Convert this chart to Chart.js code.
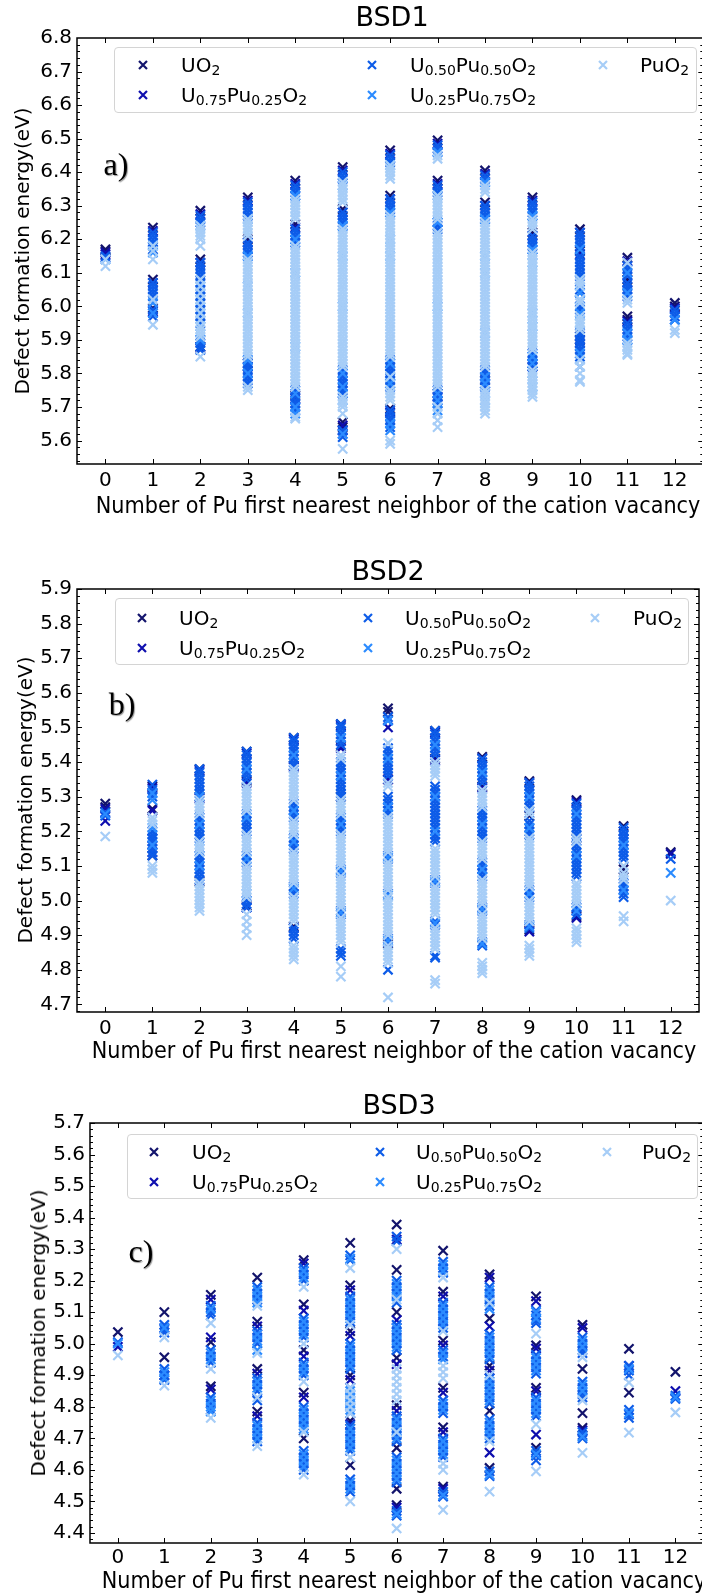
<!DOCTYPE html>
<html>
<head>
<meta charset="utf-8">
<script src="https://cdn.jsdelivr.net/npm/chart.js@4.4.1/dist/chart.umd.min.js"></script>
<style>
  body { margin: 0; width: 702px; height: 1595px; overflow: hidden; position: relative; background: #fff; font-family: "DejaVu Sans", sans-serif; color: #000; }
  canvas { position: absolute; left: 0; }
  .ctr { position: absolute; white-space: nowrap; transform: translate(-50%, -50%); }
  .ytitle { position: absolute; white-space: nowrap; transform: translate(-50%, -50%) rotate(-90deg); font-size: 20px; }
  .xtitle { font-size: 20.8px; transform: translate(-50%, -50%) scaleY(1.1); }
  .title { font-size: 27px; }
  .tag { font-family: "Liberation Serif", serif; font-size: 32px; text-shadow: 1px 1px 1px #999; }
  .legbox { position: absolute; border: 1px solid #d4d4d4; border-radius: 4px; background: rgba(255,255,255,0.85); box-sizing: border-box; }
  .leg { position: absolute; white-space: nowrap; transform: translateY(-50%); font-size: 20px; line-height: 24px; }
  .leg sub { font-size: 14px; vertical-align: -3px; line-height: 0; }
  .mark { position: absolute; width: 10px; height: 10px; }
</style>
</head>
<body>
<canvas id="c1" width="712" height="530"></canvas>
<canvas id="c2" width="712" height="535"></canvas>
<canvas id="c3" width="712" height="530"></canvas>
<script>
// ---- data ----
const xTicks = [0, 1, 2, 3, 4, 5, 6, 7, 8, 9, 10, 11, 12];
const bsd1YTicks = [5.6, 5.7, 5.8, 5.9, 6.0, 6.1, 6.2, 6.3, 6.4, 6.5, 6.6, 6.7, 6.8];
const bsd2YTicks = [4.7, 4.8, 4.9, 5.0, 5.1, 5.2, 5.3, 5.4, 5.5, 5.6, 5.7, 5.8, 5.9];
const bsd3YTicks = [4.4, 4.5, 4.6, 4.7, 4.8, 4.9, 5.0, 5.1, 5.2, 5.3, 5.4, 5.5, 5.6, 5.7];

const seriesLabels = ['UO2', 'U0.75Pu0.25O2', 'U0.50Pu0.50O2', 'U0.25Pu0.75O2', 'PuO2'];
const seriesColors = ['#13146c', '#0e0eae', '#0d5ce8', '#2b8bff', '#a6cdf7'];

// one list of energies per Pu-neighbour count (0..12)
const bsd1UO2 = [
  [6.17, 6.165], [6.235, 6.08, 5.995], [6.285, 6.14, 5.88], [6.325, 6.2, 5.83], [6.375, 6.245, 5.735],
  [6.415, 6.29, 5.655, 5.64], [6.465, 6.33, 5.695], [6.495, 6.375, 5.74], [6.405, 6.31, 5.78],
  [6.325, 6.22, 5.83], [6.23, 6.165, 5.91, 5.9], [6.145, 6.08, 5.97, 5.96], [6.01, 6.0]
];
const bsd1U75 = [
  [6.16, 6.155], [6.225, 6.07, 5.985], [6.275, 6.13, 5.875], [6.315, 6.19, 5.82], [6.365, 6.235, 5.725],
  [6.405, 6.28, 5.645, 5.63], [6.455, 6.32, 5.685], [6.485, 6.365, 5.73], [6.395, 6.3, 5.77],
  [6.315, 6.21, 5.82], [6.22, 6.155, 5.9, 5.89], [6.135, 6.07, 5.955], [5.995]
];
const bsd1U50 = [
  [6.15, 6.145],
  [6.22, 6.21, 6.2, 6.19, 6.17, 6.07, 6.06, 6.05, 6.04, 6.03, 5.99, 5.98, 5.97],
  [6.27, 6.26, 6.25, 6.13, 6.12, 6.11, 6.1, 6.09, 6.07, 6.05, 6.03, 6.01, 5.99, 5.97, 5.95, 5.9, 5.89, 5.88, 5.87],
  [6.31, 6.3, 6.29, 6.28, 6.27, 6.19, 6.18, 6.17, 6.16, 6.15, 5.84, 5.83, 5.82, 5.81, 5.8, 5.79, 5.78, 5.77],
  [6.36, 6.35, 6.34, 6.33, 6.23, 6.22, 6.21, 6.2, 6.19, 5.75, 5.73, 5.72, 5.71, 5.7, 5.69],
  [6.4, 6.39, 6.38, 6.28, 6.27, 6.26, 6.25, 6.24, 5.81, 5.8, 5.79, 5.78, 5.77, 5.76, 5.75, 5.74, 5.63, 5.62, 5.61],
  [6.45, 6.44, 6.43, 6.32, 6.31, 6.3, 6.29, 6.28, 5.84, 5.83, 5.82, 5.81, 5.8, 5.78, 5.77, 5.76, 5.69, 5.68, 5.67, 5.66, 5.65, 5.64],
  [6.48, 6.47, 6.46, 6.36, 6.35, 6.34, 6.25, 6.24, 6.23, 5.75, 5.73, 5.72, 5.71],
  [6.39, 6.38, 6.37, 6.3, 6.29, 6.28, 6.27, 6.26, 5.81, 5.8, 5.79, 5.78, 5.77, 5.76],
  [6.31, 6.3, 6.29, 6.28, 6.27, 6.21, 6.2, 6.19, 6.18, 6.17, 5.86, 5.85, 5.84, 5.83, 5.82],
  [6.22, 6.21, 6.2, 6.19, 6.18, 6.17, 6.15, 6.14, 6.13, 6.12, 6.11, 6.1, 6.09, 6.05, 6.04, 6.0, 5.99, 5.92, 5.91, 5.9, 5.89, 5.88, 5.87, 5.86, 5.85],
  [6.12, 6.11, 6.1, 6.09, 6.07, 6.06, 6.05, 6.04, 6.03, 5.95, 5.94, 5.93, 5.92, 5.91, 5.9],
  [5.99, 5.98, 5.97, 5.96]
];
const bsd1U25 = [
  [6.14], [6.18, 6.16, 6.01, 5.98], [6.24, 6.06, 6.02, 5.98, 5.94, 5.9], [6.26, 6.15, 6.06, 5.98, 5.84, 5.8],
  [6.33, 6.2, 6.1, 5.88, 5.74, 5.7, 5.68], [6.36, 6.24, 6.15, 6.0, 5.8, 5.76, 5.72, 5.62],
  [6.42, 6.28, 6.2, 6.15, 5.83, 5.79, 5.77, 5.65, 5.63], [6.46, 6.33, 6.25, 6.0, 5.74, 5.72, 5.69],
  [6.37, 6.26, 6.15, 6.1, 5.92, 5.79, 5.77, 5.74, 5.72], [6.27, 6.17, 6.13, 5.98, 5.94, 5.85, 5.83, 5.8, 5.76],
  [6.17, 6.08, 6.04, 6.02, 5.98, 5.95, 5.86, 5.82], [6.1, 6.04, 5.92, 5.9], [5.96]
];
const bsd1PuO2 = [
  [6.14, 6.12],
  [6.18, 6.165, 6.14, 6.02, 5.945],
  [6.24, 6.23, 6.22, 6.21, 6.2, 6.18, 6.08, 6.06, 6.04, 6.02, 6.0, 5.98, 5.96, 5.94, 5.93, 5.92, 5.91, 5.85],
  [6.26, 6.25, 6.24, 6.23, 6.22, 6.21, 6.14, 6.13, 6.12, 6.11, 6.1, 6.09, 6.08, 6.07, 6.06, 6.05, 6.04, 6.03, 6.02, 6.01, 6.0,
   5.99, 5.98, 5.97, 5.96, 5.95, 5.94, 5.93, 5.92, 5.91, 5.9, 5.89, 5.88, 5.87, 5.86, 5.85, 5.76, 5.75],
  [6.32, 6.31, 6.3, 6.29, 6.28, 6.27, 6.26, 6.18, 6.17, 6.16, 6.15, 6.14, 6.13, 6.12, 6.11, 6.1, 6.09, 6.08, 6.07, 6.06, 6.05,
   6.04, 6.03, 6.02, 6.01, 6.0, 5.99, 5.98, 5.97, 5.96, 5.95, 5.94, 5.93, 5.92, 5.91, 5.9, 5.89, 5.88, 5.87, 5.86, 5.85, 5.84,
   5.83, 5.82, 5.81, 5.8, 5.79, 5.78, 5.77, 5.76, 5.67, 5.665],
  [6.37, 6.36, 6.35, 6.34, 6.33, 6.32, 6.31, 6.23, 6.22, 6.21, 6.2, 6.19, 6.18, 6.17, 6.16, 6.15, 6.14, 6.13, 6.12, 6.11, 6.1,
   6.09, 6.08, 6.07, 6.06, 6.05, 6.04, 6.03, 6.02, 6.01, 6.0, 5.99, 5.98, 5.97, 5.96, 5.95, 5.94, 5.93, 5.92, 5.91, 5.9, 5.89,
   5.88, 5.87, 5.86, 5.85, 5.84, 5.83, 5.82, 5.73, 5.72, 5.71, 5.7, 5.68, 5.575],
  [6.42, 6.41, 6.4, 6.39, 6.38, 6.27, 6.26, 6.25, 6.24, 6.23, 6.22, 6.21, 6.2, 6.19, 6.18, 6.17, 6.16, 6.15, 6.14, 6.13, 6.12,
   6.11, 6.1, 6.09, 6.08, 6.07, 6.06, 6.05, 6.04, 6.03, 6.02, 6.01, 6.0, 5.99, 5.98, 5.97, 5.96, 5.95, 5.94, 5.93, 5.92, 5.91,
   5.9, 5.89, 5.88, 5.87, 5.86, 5.85, 5.79, 5.75, 5.74, 5.73, 5.72, 5.6, 5.59],
  [6.45, 6.44, 6.33, 6.32, 6.31, 6.3, 6.29, 6.28, 6.27, 6.26, 6.22, 6.21, 6.2, 6.19, 6.18, 6.17, 6.16, 6.15, 6.14, 6.13, 6.12,
   6.11, 6.1, 6.09, 6.08, 6.07, 6.06, 6.05, 6.04, 6.03, 6.02, 6.01, 6.0, 5.99, 5.98, 5.97, 5.96, 5.95, 5.94, 5.93, 5.92, 5.91,
   5.9, 5.89, 5.88, 5.87, 5.86, 5.85, 5.84, 5.83, 5.82, 5.81, 5.8, 5.79, 5.78, 5.77, 5.76, 5.7, 5.68, 5.66, 5.64],
  [6.36, 6.35, 6.34, 6.25, 6.24, 6.23, 6.22, 6.21, 6.2, 6.19, 6.18, 6.17, 6.16, 6.15, 6.14, 6.13, 6.12, 6.11, 6.1, 6.09, 6.08,
   6.07, 6.06, 6.05, 6.04, 6.03, 6.02, 6.01, 6.0, 5.99, 5.98, 5.97, 5.96, 5.95, 5.94, 5.93, 5.92, 5.91, 5.9, 5.89, 5.88, 5.87,
   5.86, 5.85, 5.84, 5.83, 5.82, 5.75, 5.74, 5.73, 5.72, 5.71, 5.7, 5.69, 5.68],
  [6.26, 6.25, 6.24, 6.23, 6.16, 6.15, 6.14, 6.13, 6.12, 6.11, 6.1, 6.09, 6.08, 6.07, 6.06, 6.05, 6.04, 6.03, 6.02, 6.01, 6.0,
   5.99, 5.98, 5.97, 5.96, 5.95, 5.94, 5.93, 5.92, 5.91, 5.9, 5.89, 5.88, 5.87, 5.81, 5.8, 5.79, 5.78, 5.77, 5.76, 5.75, 5.74, 5.73],
  [6.08, 6.07, 6.06, 6.02, 6.01, 5.97, 5.96, 5.95, 5.94, 5.93, 5.84, 5.82, 5.8, 5.78, 5.775],
  [6.13, 6.02, 6.01, 5.89, 5.88, 5.87, 5.86, 5.855],
  [5.93, 5.92]
];

const bsd2UO2 = [
  [5.28, 5.27], [5.33, 5.265, 5.13], [5.38, 5.3, 5.055], [5.43, 5.345, 4.985], [5.47, 5.39, 4.925],
  [5.51, 5.445, 5.3], [5.555, 5.545, 5.35, 4.875], [5.49, 5.41], [5.415, 5.33], [5.345, 5.245, 4.915],
  [5.29, 5.18, 4.955], [5.215, 5.09], [5.14]
];
const bsd2U75 = [
  [5.265, 5.23], [5.325, 5.26, 5.18, 5.14], [5.375, 5.295], [5.425, 5.34, 4.98], [5.465, 5.385, 4.92],
  [5.505, 5.44], [5.5, 5.35], [5.485, 5.405], [5.41, 5.325], [5.34, 4.91], [5.285, 4.95], [5.2], [5.135]
];
const bsd2U50 = [
  [5.255, 5.245],
  [5.335, 5.32, 5.31, 5.3, 5.2, 5.19, 5.18, 5.17, 5.16, 5.15, 5.14, 5.13],
  [5.38, 5.37, 5.36, 5.35, 5.34, 5.33, 5.32, 5.31, 5.24, 5.23, 5.22, 5.21, 5.2, 5.19, 5.18, 5.13, 5.12, 5.11, 5.1, 5.09, 5.08, 5.07, 5.06],
  [5.43, 5.42, 5.41, 5.4, 5.39, 5.38, 5.37, 5.36, 5.35, 5.25, 5.24, 5.23, 5.22, 5.21, 5.2, 5.13, 5.12, 5.11, 5.0, 4.99, 4.98],
  [5.47, 5.46, 5.45, 5.44, 5.43, 5.42, 5.41, 5.4, 5.39, 5.28, 5.27, 5.26, 5.25, 5.24, 5.18, 5.17, 5.16, 5.15, 5.04, 5.03, 5.02, 4.92, 4.91, 4.9, 4.89],
  [5.51, 5.5, 5.49, 5.48, 5.47, 5.46, 5.45, 5.4, 5.39, 5.38, 5.37, 5.36, 5.35, 5.34, 5.33, 5.32, 5.31, 5.3, 5.24, 5.23, 5.22, 5.21, 5.2, 5.09, 5.08, 4.97, 4.96, 4.86, 4.85, 4.84],
  [5.53, 5.52, 5.44, 5.43, 5.42, 5.41, 5.4, 5.39, 5.38, 5.37, 5.36, 5.3, 5.29, 5.28, 5.27, 5.26, 5.25, 5.13, 5.12, 5.02, 4.89, 4.88, 4.8],
  [5.49, 5.48, 5.47, 5.46, 5.45, 5.44, 5.43, 5.42, 5.33, 5.32, 5.31, 5.3, 5.29, 5.28, 5.27, 5.26, 5.25, 5.24, 5.23, 5.22, 5.21, 5.19, 5.18, 5.17, 5.06, 5.05, 4.94, 4.93, 4.84, 4.835],
  [5.41, 5.4, 5.39, 5.38, 5.37, 5.36, 5.35, 5.34, 5.26, 5.25, 5.24, 5.23, 5.22, 5.21, 5.2, 5.19, 5.18, 5.11, 5.1, 5.09, 5.08, 5.07, 4.98, 4.97, 4.88, 4.87],
  [5.34, 5.33, 5.32, 5.31, 5.3, 5.29, 5.28, 5.27, 5.23, 5.22, 5.21, 5.2, 5.19, 5.03, 5.02, 5.01, 4.93, 4.92],
  [5.28, 5.27, 5.26, 5.25, 5.24, 5.23, 5.22, 5.21, 5.2, 5.19, 5.16, 5.15, 5.14, 5.13, 5.12, 5.11, 5.1, 5.09, 5.08, 5.07, 4.98, 4.97, 4.96],
  [5.21, 5.2, 5.19, 5.18, 5.17, 5.16, 5.15, 5.14, 5.13, 5.12, 5.05, 5.04, 5.03, 5.02, 5.01],
  [5.12]
];
const bsd2U25 = [
  [5.25], [5.31, 5.29, 5.21, 5.16], [5.3, 5.22, 5.15, 5.1], [5.38, 5.24, 5.12, 5.02], [5.42, 5.26, 5.17, 5.035],
  [5.47, 5.36, 5.22, 5.085, 4.965], [5.52, 5.41, 5.27, 5.125, 5.015, 4.885], [5.45, 5.3, 5.2, 5.055, 4.935],
  [5.37, 5.22, 5.09, 4.975, 4.875], [5.3, 5.21, 5.02, 4.925], [5.25, 5.13, 4.97], [5.16, 5.03], [5.08]
];
const bsd2PuO2 = [
  [5.185],
  [5.24, 5.23, 5.22, 5.1, 5.09, 5.08],
  [5.29, 5.28, 5.27, 5.26, 5.25, 5.17, 5.16, 5.15, 5.14, 5.05, 5.04, 5.03, 5.02, 5.01, 5.0, 4.99, 4.98, 4.97],
  [5.33, 5.32, 5.31, 5.3, 5.29, 5.28, 5.27, 5.26, 5.19, 5.18, 5.17, 5.16, 5.15, 5.14, 5.1, 5.09, 5.08, 5.07, 5.06, 5.05,
   5.04, 5.03, 5.02, 5.01, 4.96, 4.94, 4.92, 4.9],
  [5.38, 5.37, 5.36, 5.35, 5.34, 5.33, 5.32, 5.31, 5.3, 5.29, 5.23, 5.22, 5.21, 5.2, 5.19, 5.14, 5.13, 5.12, 5.11, 5.1,
   5.09, 5.08, 5.07, 5.06, 5.05, 5.01, 5.0, 4.99, 4.98, 4.97, 4.96, 4.95, 4.94, 4.87, 4.86, 4.85, 4.84, 4.83],
  [5.42, 5.41, 5.29, 5.28, 5.27, 5.26, 5.25, 5.19, 5.18, 5.17, 5.16, 5.15, 5.14, 5.13, 5.12, 5.11, 5.1, 5.07, 5.06, 5.05,
   5.04, 5.03, 5.02, 5.01, 5.0, 4.99, 4.98, 4.95, 4.94, 4.93, 4.92, 4.91, 4.9, 4.89, 4.88, 4.81, 4.78],
  [5.455, 5.34, 5.33, 5.24, 5.23, 5.22, 5.21, 5.2, 5.19, 5.18, 5.17, 5.16, 5.15, 5.14, 5.11, 5.1, 5.09, 5.08, 5.07, 5.06,
   5.05, 5.04, 5.03, 5.01, 5.0, 4.99, 4.98, 4.97, 4.96, 4.95, 4.94, 4.93, 4.92, 4.91, 4.9, 4.87, 4.86, 4.85, 4.84, 4.83, 4.82, 4.72],
  [5.4, 5.39, 5.38, 5.37, 5.36, 5.15, 5.14, 5.13, 5.12, 5.11, 5.1, 5.09, 5.08, 5.07, 5.04, 5.03, 5.02, 5.01, 5.0, 4.99,
   4.98, 4.97, 4.96, 4.92, 4.91, 4.9, 4.89, 4.88, 4.87, 4.86, 4.77, 4.76],
  [5.32, 5.31, 5.3, 5.29, 5.28, 5.27, 5.17, 5.16, 5.15, 5.14, 5.13, 5.12, 5.06, 5.05, 5.04, 5.03, 5.02, 5.01, 5.0, 4.99,
   4.96, 4.95, 4.94, 4.93, 4.92, 4.91, 4.9, 4.89, 4.82, 4.81, 4.8, 4.79],
  [5.26, 5.25, 5.18, 5.17, 5.16, 5.15, 5.14, 5.13, 5.12, 5.11, 5.1, 5.09, 5.08, 5.07, 5.06, 5.05, 5.04, 5.0, 4.99, 4.98,
   4.97, 4.96, 4.95, 4.94, 4.87, 4.86, 4.85, 4.84],
  [5.18, 5.17, 5.05, 5.04, 5.03, 5.02, 5.01, 5.0, 4.99, 4.92, 4.91, 4.9, 4.89, 4.88],
  [5.1, 5.08, 5.07, 5.06, 4.955, 4.94],
  [5.0]
];

const bsd3UO2 = [
  [5.037], [5.1, 4.957], [5.155, 5.005, 4.865], [5.21, 5.07, 4.92, 4.785], [5.265, 5.125, 4.98, 4.845, 4.7],
  [5.32, 5.185, 5.04, 4.9, 4.755, 4.615], [5.378, 5.234, 5.1, 4.955, 4.805, 4.67, 4.54, 4.488],
  [5.295, 5.165, 5.01, 4.86, 4.735, 4.547], [5.22, 5.08, 4.93, 4.787, 4.606], [5.15, 4.995, 4.86, 4.67],
  [5.06, 4.92, 4.78, 4.733], [4.984, 4.845], [4.911]
];
const bsd3U75 = [
  [4.99], [5.05, 4.9], [5.14, 5.02, 4.855], [5.055, 4.905, 4.77], [5.255, 5.105, 4.96, 4.83],
  [5.17, 5.025, 4.885, 4.745], [5.33, 5.075, 4.935, 4.787, 4.48], [5.15, 4.995, 4.845, 4.72, 4.54],
  [5.21, 5.055, 4.915, 4.655], [5.135, 4.985, 4.85, 4.712], [5.05, 4.725], [4.93], [4.85]
];
const bsd3U50 = [
  [5.005],
  [5.06, 5.045, 5.035, 4.92, 4.9, 4.885],
  [5.12, 5.1, 5.09, 4.98, 4.96, 4.94, 4.83, 4.81, 4.79],
  [5.18, 5.16, 5.14, 5.04, 5.02, 5.0, 4.89, 4.87, 4.85, 4.82, 4.75, 4.73, 4.71, 4.69],
  [5.24, 5.22, 5.2, 5.08, 5.06, 5.04, 5.02, 4.94, 4.92, 4.9, 4.8, 4.78, 4.76, 4.74, 4.66, 4.64, 4.62, 4.6],
  [5.28, 5.265, 5.15, 5.13, 5.11, 5.09, 5.07, 5.0, 4.98, 4.96, 4.94, 4.92, 4.86, 4.84, 4.82, 4.8, 4.78, 4.74, 4.72, 4.7, 4.68, 4.66, 4.57, 4.55, 4.53],
  [5.34, 5.325, 5.2, 5.18, 5.16, 5.13, 5.06, 5.04, 5.02, 5.0, 4.98, 4.77, 4.75, 4.73, 4.71, 4.69, 4.64, 4.62, 4.6, 4.58, 4.56, 4.47, 4.455],
  [5.26, 5.24, 5.225, 5.13, 5.11, 5.09, 5.07, 5.05, 4.98, 4.96, 4.82, 4.8, 4.78, 4.7, 4.68, 4.66, 4.64, 4.53, 4.515],
  [5.18, 5.16, 5.14, 5.12, 5.03, 5.01, 4.99, 4.97, 4.95, 4.89, 4.87, 4.85, 4.83, 4.81, 4.76, 4.74, 4.72, 4.7, 4.595, 4.58],
  [5.105, 5.09, 5.075, 5.065, 4.965, 4.945, 4.925, 4.905, 4.83, 4.81, 4.79, 4.77, 4.66, 4.645, 4.63],
  [5.02, 5.0, 4.98, 4.97, 4.88, 4.86, 4.84, 4.83, 4.72, 4.71, 4.7],
  [4.93, 4.915, 4.9, 4.79, 4.775, 4.765],
  [4.835, 4.825]
];
const bsd3U25 = [
  [5.0], [5.05, 4.91, 4.89], [5.11, 4.97, 4.95, 4.82, 4.8, 4.785],
  [5.17, 5.15, 5.13, 5.03, 5.01, 4.98, 4.88, 4.86, 4.74, 4.72, 4.7],
  [5.23, 5.21, 5.07, 5.05, 5.03, 4.93, 4.91, 4.79, 4.77, 4.75, 4.73, 4.65, 4.63, 4.61],
  [5.27, 5.14, 5.12, 5.1, 5.08, 4.99, 4.97, 4.95, 4.93, 4.85, 4.83, 4.81, 4.79, 4.73, 4.71, 4.69, 4.67, 4.56, 4.54],
  [5.19, 5.17, 5.15, 5.05, 5.03, 5.01, 4.99, 4.76, 4.74, 4.72, 4.7, 4.63, 4.61, 4.59, 4.57, 4.46],
  [5.25, 5.23, 5.12, 5.1, 5.08, 5.06, 4.97, 4.95, 4.81, 4.79, 4.69, 4.67, 4.65, 4.52],
  [5.17, 5.15, 5.11, 5.02, 5.0, 4.98, 4.96, 4.88, 4.86, 4.84, 4.82, 4.75, 4.73, 4.71, 4.585],
  [5.1, 5.08, 4.955, 4.935, 4.915, 4.82, 4.8, 4.78, 4.65],
  [5.01, 4.99, 4.87, 4.85, 4.705], [4.92, 4.78], [4.83]
];
const bsd3PuO2 = [
  [4.963], [5.02, 4.867], [5.065, 4.92, 4.765], [5.12, 4.97, 4.83, 4.675], [5.18, 5.0, 4.88, 4.72, 4.585],
  [5.24, 5.06, 4.86, 4.84, 4.82, 4.8, 4.78, 4.64, 4.5], [5.3, 5.14, 4.92, 4.9, 4.88, 4.86, 4.84, 4.82, 4.72, 4.414],
  [5.21, 5.04, 4.93, 4.91, 4.89, 4.62, 4.6, 4.473], [5.13, 4.9, 4.69, 4.531], [5.032, 4.744, 4.595],
  [4.957, 4.82, 4.654], [4.877, 4.718], [4.782]
];

// ---- layout (page pixels) ----
const panels = [
  { id: 'c1', top: 0, title: 'BSD1', tag: 'a)', plot: [77, 38, 708, 464], yRange: [5.53, 6.8], yTicks: bsd1YTicks, tickPad: 5,
    series: [bsd1UO2, bsd1U75, bsd1U50, bsd1U25, bsd1PuO2],
    titlePos: [392, 16], xTitlePos: [398, 505], yTitlePos: [22, 251], tagPos: [116, 164],
    legend: { box: [114, 47, 697, 113], rows: [65, 95], markX: [143, 372, 603], textX: [181, 410, 640] } },
  { id: 'c2', top: 530, title: 'BSD2', tag: 'b)', plot: [77, 589, 699, 1012], yRange: [4.678, 5.9], yTicks: bsd2YTicks, tickPad: 5,
    series: [bsd2UO2, bsd2U75, bsd2U50, bsd2U25, bsd2PuO2],
    titlePos: [388, 570], xTitlePos: [394, 1050], yTitlePos: [25, 800], tagPos: [122, 704],
    legend: { box: [115, 598, 689, 665], rows: [618, 648], markX: [142, 368, 595], textX: [179, 405, 633] } },
  { id: 'c3', top: 1065, title: 'BSD3', tag: 'c)', plot: [90, 1123, 708, 1543], yRange: [4.368, 5.7], yTicks: bsd3YTicks, tickPad: 3,
    series: [bsd3UO2, bsd3U75, bsd3U50, bsd3U25, bsd3PuO2],
    titlePos: [399, 1104], xTitlePos: [404, 1580], yTitlePos: [38, 1333], tagPos: [141, 1251],
    legend: { box: [127, 1134, 698, 1199], rows: [1152, 1182], markX: [154, 380, 607], textX: [192, 416, 642] } }
];
const legendCol = [0, 0, 1, 1, 2];
const legendRow = [0, 1, 0, 1, 0];

const toPoints = (cols) => cols.flatMap((ys, i) => ys.map((y) => ({ x: xTicks[i], y })));
const subscript = (label) => label.replace(/(\d+(?:\.\d+)?)/g, '<sub>$1</sub>');

// inward ticks on all four sides plus the frame, matplotlib style
const frameTicks = {
  id: 'frameTicks',
  afterDatasetsDraw(chart) {
    const { ctx, chartArea: a, scales: { x, y } } = chart;
    const yt = chart.options.scales.y.tickValues;
    ctx.save();
    ctx.strokeStyle = '#000';
    ctx.lineWidth = 1;
    ctx.beginPath();
    x.ticks.forEach((t) => {
      const px = Math.round(x.getPixelForValue(t.value)) + 0.5;
      ctx.moveTo(px, a.bottom); ctx.lineTo(px, a.bottom - 5);
      ctx.moveTo(px, a.top); ctx.lineTo(px, a.top + 5);
    });
    const minorStep = (yt[1] - yt[0]) / 5;
    for (let k = -5; k <= (yt.length - 1) * 5; k++) {
      const v = yt[0] + k * minorStep;
      if (v < y.min || v > y.max) continue;
      const len = (k % 5 === 0) ? 5 : 3;
      const py = Math.round(y.getPixelForValue(v)) + 0.5;
      ctx.moveTo(a.left, py); ctx.lineTo(a.left + len, py);
      ctx.moveTo(a.right, py); ctx.lineTo(a.right - len, py);
    }
    ctx.stroke();
    ctx.lineWidth = 1.5;
    ctx.strokeRect(a.left, a.top, a.right - a.left, a.bottom - a.top);
    ctx.restore();
  }
};

const addDiv = (cls, html, x, y) => {
  const d = document.createElement('div');
  d.className = cls;
  d.innerHTML = html;
  d.style.left = x + 'px';
  d.style.top = y + 'px';
  document.body.appendChild(d);
  return d;
};

const markerSvg = (color) =>
  `<svg viewBox="0 0 10 10" width="10" height="10" style="display:block"><path d="M1 1L9 9M9 1L1 9" stroke="${color}" stroke-width="2.2"/></svg>`;

panels.forEach((p) => {
  const canvas = document.getElementById(p.id);
  canvas.style.top = p.top + 'px';
  const [left, top, right, bottom] = p.plot;
  const h = canvas.height;

  new Chart(canvas, {
    type: 'scatter',
    data: {
      datasets: seriesLabels.map((label, k) => ({
        label,
        data: toPoints(p.series[k]),
        showLine: false,
        pointStyle: 'crossRot',
        pointRadius: 6.5,
        pointBorderWidth: 2.2,
        pointBorderColor: seriesColors[k],
        pointBackgroundColor: seriesColors[k],
        borderColor: seriesColors[k],
        backgroundColor: seriesColors[k],
        order: 5 - k
      }))
    },
    options: {
      responsive: false,
      animation: false,
      events: [],
      layout: { padding: { top: top - p.top, right: canvas.width - right, left: 0, bottom: 0 } },
      plugins: { legend: { display: false }, tooltip: { enabled: false } },
      scales: {
        x: {
          type: 'linear', min: -0.6, max: 12.6,
          grid: { display: false, drawTicks: false }, border: { display: false },
          afterBuildTicks: (s) => { s.ticks = xTicks.map((v) => ({ value: v })); },
          afterFit: (s) => { s.height = h - (bottom - p.top); },
          ticks: { color: '#000', font: { family: 'DejaVu Sans', size: 20 }, padding: p.tickPad, autoSkip: false, maxRotation: 0,
                   callback: (v) => String(v) }
        },
        y: {
          type: 'linear', min: p.yRange[0], max: p.yRange[1], tickValues: p.yTicks,
          grid: { display: false, drawTicks: false }, border: { display: false },
          afterBuildTicks: (s) => { s.ticks = p.yTicks.map((v) => ({ value: v })); },
          afterFit: (s) => { s.width = left; },
          ticks: { color: '#000', font: { family: 'DejaVu Sans', size: 20 }, padding: 5, autoSkip: false,
                   callback: (v) => Number(v).toFixed(1) }
        }
      }
    },
    plugins: [frameTicks]
  });

  addDiv('ctr title', p.title, p.titlePos[0], p.titlePos[1]);
  addDiv('ctr xtitle', 'Number of Pu first nearest neighbor of the cation vacancy', p.xTitlePos[0], p.xTitlePos[1]);
  addDiv('ytitle', 'Defect formation energy(eV)', p.yTitlePos[0], p.yTitlePos[1]);

  const [bx0, by0, bx1, by1] = p.legend.box;
  const box = addDiv('legbox', '', bx0, by0);
  box.style.width = (bx1 - bx0) + 'px';
  box.style.height = (by1 - by0) + 'px';
  seriesLabels.forEach((label, k) => {
    const ry = p.legend.rows[legendRow[k]];
    addDiv('mark', markerSvg(seriesColors[k]), p.legend.markX[legendCol[k]] - 5, ry - 5);
    addDiv('leg', subscript(label), p.legend.textX[legendCol[k]], ry);
  });

  addDiv('ctr tag', p.tag, p.tagPos[0], p.tagPos[1]);
});
</script>
</body>
</html>
